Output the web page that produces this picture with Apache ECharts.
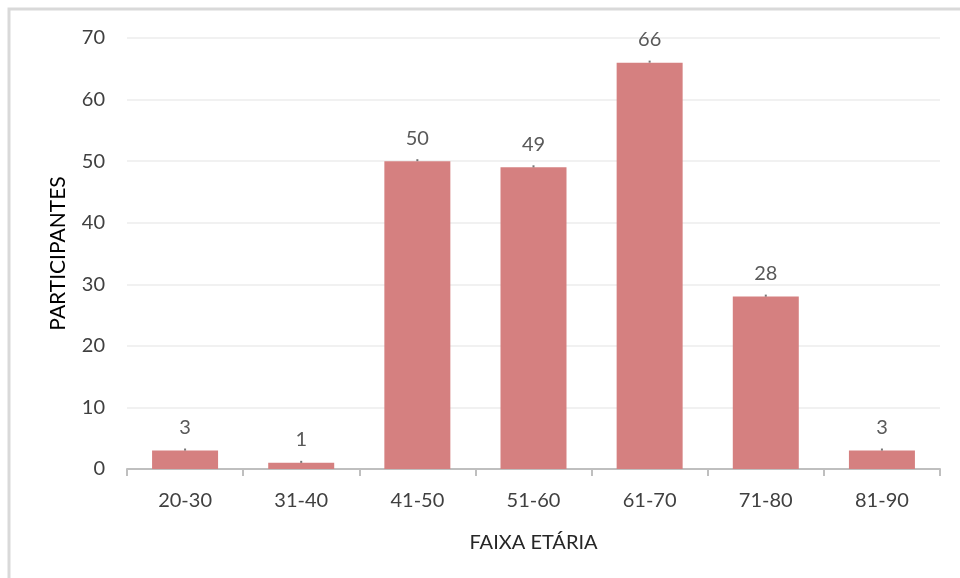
<!DOCTYPE html>
<html>
<head>
<meta charset="utf-8">
<script src="https://cdn.jsdelivr.net/npm/echarts@6/dist/echarts.min.js"></script>
<style>
  html, body { margin: 0; padding: 0; background: #ffffff; }
  #chart { width: 960px; height: 578px; }
</style>
</head>
<body>
<div id="chart"></div>
<script>
// Age bands and number of participants in each
const categories = ['20-30', '31-40', '41-50', '51-60', '61-70', '71-80', '81-90'];
const participants = [3, 1, 50, 49, 66, 28, 3];
const yTicks = { min: 0, max: 70, interval: 10 };

const FONT = 'Lato, "Open Sans", "Noto Sans", sans-serif';

const chart = echarts.init(document.getElementById('chart'), null, { renderer: 'canvas' });

chart.setOption({
  animation: false,
  backgroundColor: '#ffffff',
  graphic: [
    // chart frame (only top and left edges fall inside the view)
    {
      type: 'rect',
      shape: { x: 9, y: 9, width: 980, height: 600 },
      style: { fill: 'none', stroke: '#d9d9d9', lineWidth: 3 },
      silent: true
    }
  ],
  grid: { left: 127, right: 20, top: 38, bottom: 109 },
  xAxis: {
    type: 'category',
    data: categories,
    name: 'FAIXA ETÁRIA',
    nameLocation: 'middle',
    nameGap: 64,
    nameTextStyle: { fontFamily: FONT, fontSize: 20, color: '#262626' },
    axisLine: { lineStyle: { color: '#bfbfbf', width: 2 } },
    axisTick: { show: true, alignWithLabel: false, length: 7, lineStyle: { color: '#bfbfbf', width: 2 } },
    axisLabel: { fontFamily: FONT, fontSize: 20, color: '#404040', margin: 22 }
  },
  yAxis: {
    type: 'value',
    min: yTicks.min,
    max: yTicks.max,
    interval: yTicks.interval,
    name: 'PARTICIPANTES',
    nameLocation: 'middle',
    nameGap: 58,
    nameRotate: 90,
    nameTextStyle: { fontFamily: FONT, fontSize: 21, color: '#000000' },
    axisLine: { show: false },
    axisTick: { show: false },
    axisLabel: { fontFamily: FONT, fontSize: 20, color: '#404040', margin: 22 },
    splitLine: { lineStyle: { color: '#ececec', width: 1.5 } }
  },
  series: [
    {
      type: 'bar',
      data: participants,
      barWidth: 66,
      itemStyle: { color: '#d58080' },
      label: {
        show: true,
        position: 'top',
        distance: 13,
        fontFamily: FONT,
        fontSize: 20,
        color: '#595959'
      }
    },
    {
      // small cap mark at the top of each bar
      type: 'scatter',
      data: participants,
      symbol: 'rect',
      symbolSize: [2, 2],
      symbolOffset: [0, -1],
      itemStyle: { color: '#555555' },
      silent: true,
      z: 5
    }
  ]
});
</script>
</body>
</html>
